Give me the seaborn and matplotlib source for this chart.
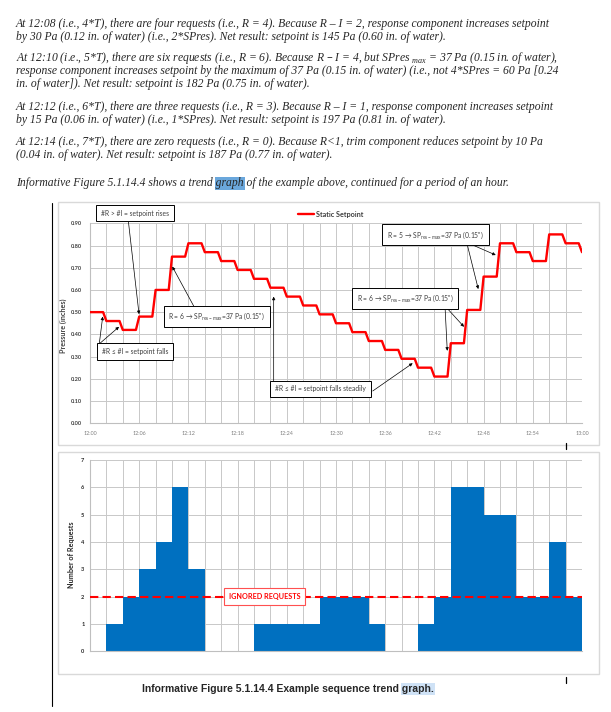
import numpy as np
import pandas as pd
import seaborn as sns
import matplotlib.pyplot as plt
from matplotlib.patches import Rectangle
from matplotlib.lines import Line2D

# static setpoint (inches of water) at every 2 min step, 12:00 .. 13:00
minutes = list(range(0, 62, 2))
setpoint = [0.50, 0.46, 0.42, 0.48, 0.60, 0.75, 0.81, 0.77, 0.73, 0.69, 0.65,
            0.61, 0.57, 0.53, 0.49, 0.45, 0.41, 0.37, 0.33, 0.29, 0.25, 0.21,
            0.36, 0.51, 0.66, 0.81, 0.77, 0.73, 0.85, 0.81, 0.77]
time_labels = ["12:00", "12:06", "12:12", "12:18", "12:24", "12:30",
               "12:36", "12:42", "12:48", "12:54", "13:00"]

# number of requests in each 2 min interval
intervals = ["12:%02d" % m for m in range(0, 60, 2)]
requests = [0, 1, 2, 3, 4, 6, 3, 0, 0, 0, 1, 1, 1, 1, 2, 2, 2, 1, 0, 0,
            1, 2, 6, 6, 5, 5, 2, 2, 4, 2]
ignored = 2

paragraphs = [
    ["At 12:08 (i.e., 4*T), there are four requests (i.e., R = 4). Because R \u2013 I = 2, response component increases setpoint",
     "by 30 Pa (0.12 in. of water) (i.e., 2*SPres). Net result: setpoint is 145 Pa (0.60 in. of water)."],
    ["At 12:10 (i.e., 5*T), there are six requests (i.e., R = 6). Because R \u2013 I = 4, but SPres $_{\\mathregular{max}}$ = 37 Pa (0.15 in. of water),",
     "response component increases setpoint by the maximum of 37 Pa (0.15 in. of water) (i.e., not 4*SPres = 60 Pa [0.24",
     "in. of water]). Net result: setpoint is 182 Pa (0.75 in. of water)."],
    ["At 12:12 (i.e., 6*T), there are three requests (i.e., R = 3). Because R \u2013 I = 1, response component increases setpoint",
     "by 15 Pa (0.06 in. of water) (i.e., 1*SPres). Net result: setpoint is 197 Pa (0.81 in. of water)."],
    ["At 12:14 (i.e., 7*T), there are zero requests (i.e., R = 0). Because R<1, trim component reduces setpoint by 10 Pa",
     "(0.04 in. of water). Net result: setpoint is 187 Pa (0.77 in. of water)."],
]
intro_before = "Informative Figure 5.1.14.4 shows a trend "
intro_word = "graph"
intro_after = " of the example above, continued for a period of an hour."
caption_before = "Informative Figure 5.1.14.4 Example sequence trend "
caption_word = "graph."

sns.set_style("white")
plt.rcParams['font.family'] = ['Lato', 'DejaVu Sans']

W, H = 611, 712
fig = plt.figure(figsize=(W / 100, H / 100), dpi=100)
renderer = fig.canvas.get_renderer()


def fbox(l, t, r, b):
    return [l / W, 1 - b / H, (r - l) / W, (b - t) / H]


def text_width(s, **kw):
    t = fig.text(0, 0, s, **kw)
    w = t.get_window_extent(renderer).width
    t.remove()
    return w


# ---- paragraph text above the figure
serif = dict(family=['Liberation Serif', 'DejaVu Serif'], style='italic')
body_size = 10 * 534 / text_width(paragraphs[0][0], fontsize=10, **serif)
baselines = [[26.6, 40], [60.6, 74.3, 87], [110, 122.6], [145, 158.3]]
for lines, ys in zip(paragraphs, baselines):
    for s, y in zip(lines, ys):
        fig.text(16 / W, 1 - y / H, s, fontsize=body_size, va='baseline', **serif)

y_intro = 186
fig.text(16 / W, 1 - y_intro / H, intro_before + intro_word + intro_after,
         fontsize=body_size, va='baseline', zorder=3, **serif)
w_a = text_width((intro_before + intro_word).rstrip(), fontsize=body_size, **serif)
w_g = text_width(intro_word, fontsize=body_size, **serif)
fig.patches.append(Rectangle(((16 + w_a - w_g - 0.5) / W, 1 - (y_intro + 3.5) / H),
                             (w_g + 1.5) / W, 13 / H, transform=fig.transFigure,
                             fc='#6aa7dc', ec='none', zorder=1))

# ---- chart frames
for top, bot in [(202, 445), (452, 674)]:
    fig.patches.append(Rectangle((58 / W, 1 - bot / H), (598.7 - 58) / W, (bot - top) / H,
                                 transform=fig.transFigure, fill=False,
                                 ec='#d9d9d9', lw=1))
fig.add_artist(Line2D([52 / W, 52 / W], [1 - 203 / H, 1 - 706 / H], color='black', lw=0.8))
for y0, y1 in [(443, 449), (677, 683)]:
    fig.add_artist(Line2D([565.5 / W, 565.5 / W], [1 - y0 / H, 1 - y1 / H], color='black', lw=0.9))

grid_col = '#c8c8c8'

# ---- top: static setpoint trend
ax1 = fig.add_axes(fbox(90, 223.3, 582, 423.2))
ramp = 0.4
xs, ys = [minutes[0]], [setpoint[0]]
for k in range(1, len(minutes)):
    xs += [minutes[k] - ramp, minutes[k]]
    ys += [setpoint[k - 1], setpoint[k]]
line_df = pd.DataFrame({"minute": xs, "setpoint": ys})
sns.lineplot(data=line_df, x="minute", y="setpoint", color='#ff0000', lw=1.7,
             estimator=None, ax=ax1, zorder=4, label="Static Setpoint")
ax1.get_legend().remove()

ax1.set_xlim(0, 60)
ax1.set_ylim(0, 0.9)
ax1.set_xticks(np.arange(0, 61, 6))
ax1.set_xticklabels(time_labels)
ax1.set_xticks(minutes, minor=True)
ax1.set_yticks(np.arange(0, 0.91, 0.1))
ax1.set_yticklabels(["%.2f" % v for v in np.arange(0, 0.91, 0.1)])
ax1.grid(which='both', color=grid_col, lw=0.7)
ax1.set_axisbelow(True)
for sp in ['top', 'right']:
    ax1.spines[sp].set_visible(False)
for sp in ['left', 'bottom']:
    ax1.spines[sp].set_color('#bfbfbf')
    ax1.spines[sp].set_linewidth(0.8)
ax1.tick_params(axis='x', which='both', length=2, color='#bfbfbf', pad=3.5,
                labelsize=3.9, labelcolor='#7f7f7f')
ax1.tick_params(axis='y', length=0, pad=5.5, labelsize=4.1, labelcolor='#404040')
for lab in ax1.get_yticklabels():
    lab.set_fontweight('bold')
ax1.set_xlabel("")
ax1.set_ylabel("Pressure (inches)", fontsize=5.2, fontweight='bold', color='#404040')
ax1.yaxis.set_label_coords(-0.046, 0.486)

fig.legend(handles=[Line2D([], [], color='#ff0000', lw=1.7)], labels=["Static Setpoint"],
           loc='center left', bbox_to_anchor=(294 / W, 1 - 214 / H), frameon=False,
           prop=dict(size=5.2, weight='bold'), handlelength=2.2, handletextpad=0.3,
           borderpad=0, labelcolor='#404040')

note_box = dict(boxstyle='square,pad=0.7', fc='white', ec='black', lw=0.7)
arrow = dict(arrowstyle='-|>', color='black', lw=0.5, mutation_scale=4.5, shrinkA=0, shrinkB=0)


def note(text, xy, arrows):
    ax1.text(xy[0], xy[1], text, ha='center', va='center', fontsize=4.9, color='#404040',
             bbox=note_box, zorder=6, clip_on=False)
    for start, tip in arrows:
        ax1.annotate("", xy=tip, xytext=start, arrowprops=arrow, annotation_clip=False, zorder=5)


res_max = "SP$_{\\mathregular{res-max}}$=37 Pa (0.15\")"
note("#R > #I = setpoint rises", (5.51, 0.9455), [((4.67, 0.912), (5.98, 0.491))])
note("#R \u2264 #I = setpoint falls", (5.53, 0.322),
     [((1.13, 0.357), (1.55, 0.48)), ((1.13, 0.357), (3.54, 0.434))])
note("R = 6 \u2192 " + res_max, (15.46, 0.482), [((12.8, 0.517), (10.04, 0.705))])
note("#R \u2264 #I = setpoint falls steadily", (28.11, 0.155),
     [((22.4, 0.187), (22.4, 0.57)), ((34.48, 0.145), (39.35, 0.27))])
note("R = 6 \u2192 " + res_max, (38.41, 0.562),
     [((43.29, 0.528), (43.57, 0.326)), ((43.29, 0.528), (45.61, 0.434))])
note("R = 5 \u2192 " + res_max, (42.11, 0.848),
     [((45.94, 0.814), (47.35, 0.604)), ((45.94, 0.814), (49.48, 0.757))])

# ---- bottom: number of requests
ax2 = fig.add_axes(fbox(90, 460, 582, 651.3))
sns.barplot(x=intervals, y=requests, color='#0070C0', saturation=1, width=1,
            linewidth=0, ax=ax2, zorder=2)
ax2.set_xlim(-0.5, len(intervals) - 0.5)
ax2.set_ylim(0, 7)
ax2.set_xticks(np.arange(-0.5, len(intervals), 1))
ax2.set_xticklabels([])
ax2.set_yticks(range(0, 8))
ax2.grid(which='both', color=grid_col, lw=0.7)
ax2.set_axisbelow(True)
for sp in ['top', 'right']:
    ax2.spines[sp].set_visible(False)
for sp in ['left', 'bottom']:
    ax2.spines[sp].set_color('#bfbfbf')
    ax2.spines[sp].set_linewidth(0.8)
ax2.tick_params(axis='x', length=2, color='#bfbfbf')
ax2.tick_params(axis='y', length=0, pad=4, labelsize=4.1, labelcolor='#262626')
for lab in ax2.get_yticklabels():
    lab.set_fontweight('bold')
ax2.set_xlabel("")
ax2.set_ylabel("Number of Requests", fontsize=5.2, fontweight='bold', color='#262626')
ax2.yaxis.set_label_coords(-0.031, 0.503)

ax2.axhline(ignored, color='#ff0000', lw=1.5, ls=(0, (4, 2)), zorder=4)
ax2.text(10.14, ignored, "IGNORED REQUESTS", ha='center', va='center', fontsize=5.2,
         fontweight='bold', color='#ff0000', zorder=5,
         bbox=dict(boxstyle='square,pad=0.7', fc='white', ec='#ff5050', lw=0.8))

# ---- caption
cap = dict(family=['Liberation Sans', 'DejaVu Sans'], weight='bold')
cap_size = 10 * 292 / text_width(caption_before + caption_word, fontsize=10, **cap)
x_cap = 141.7
y_cap = 689.3
fig.text(x_cap / W, 1 - y_cap / H, caption_before + caption_word, fontsize=cap_size,
         va='center', ha='left', zorder=3, **cap)
w_c = text_width(caption_before + caption_word, fontsize=cap_size, **cap)
w_cw = text_width(caption_word, fontsize=cap_size, **cap)
fig.patches.append(Rectangle(((x_cap + w_c - w_cw - 1) / W, 1 - (y_cap + 6) / H),
                             (w_cw + 2) / W, 12 / H, transform=fig.transFigure,
                             fc='#cfe2f6', ec='none', zorder=1))

plt.savefig("out.png", dpi=100)
